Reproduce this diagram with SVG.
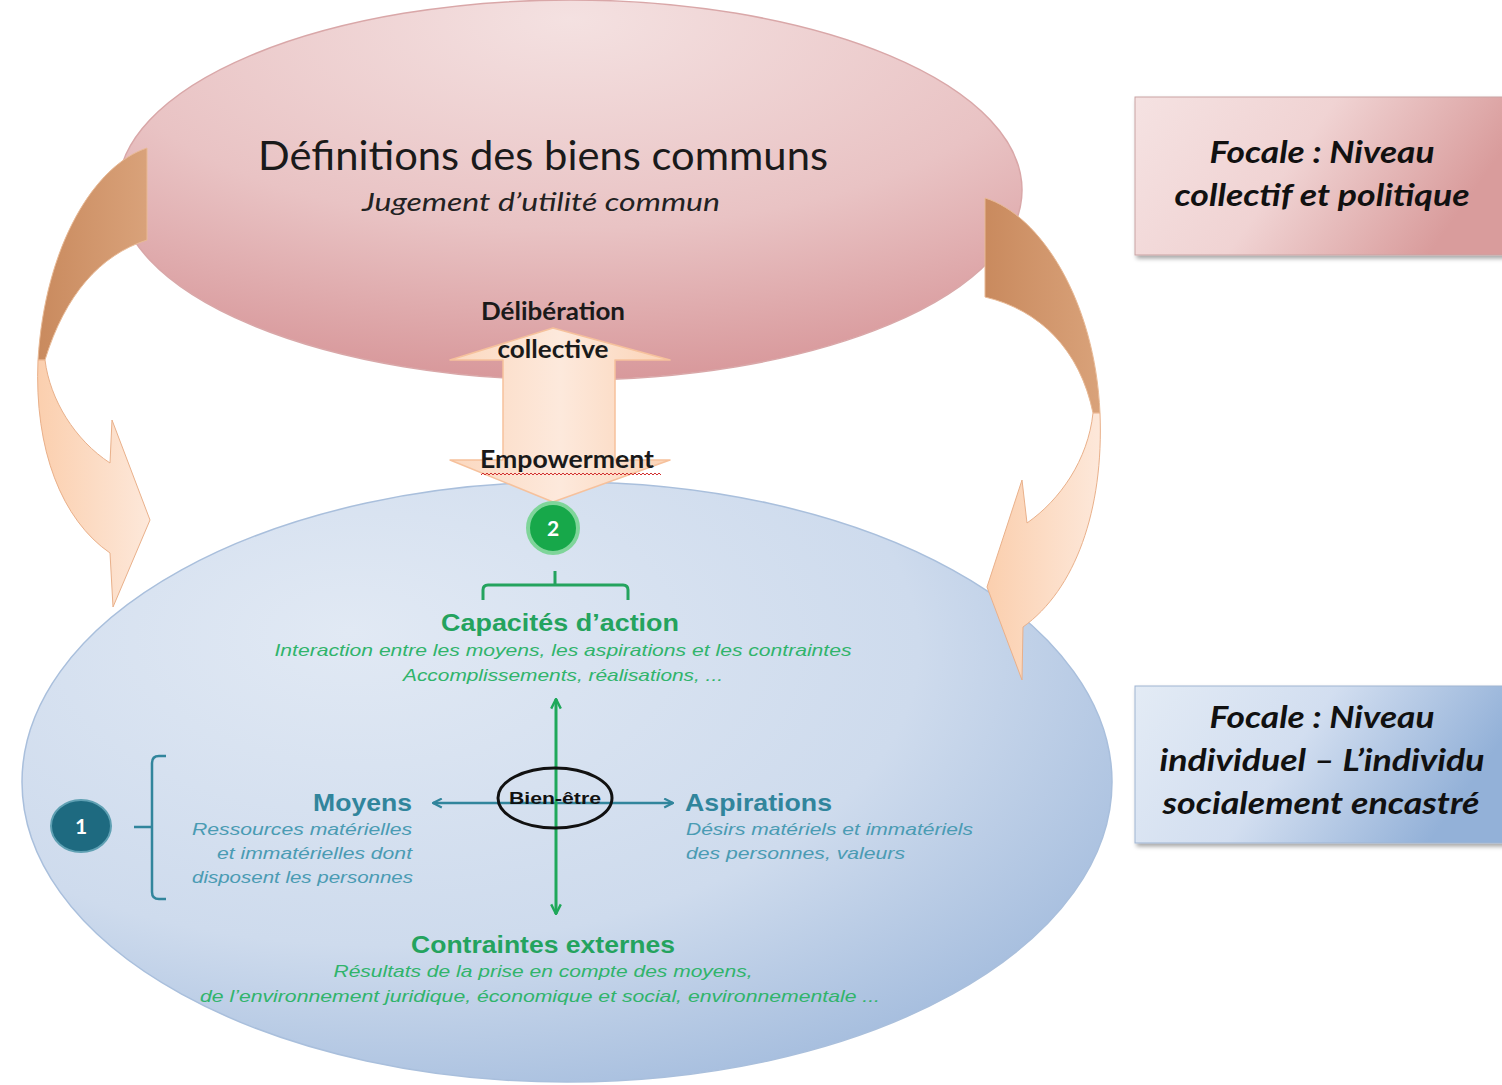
<svg xmlns="http://www.w3.org/2000/svg" width="1502" height="1085" viewBox="0 0 1502 1085">
<defs>
<radialGradient id="gPink" cx="0.5" cy="0.1" r="0.95" fx="0.5" fy="0.05">
<stop offset="0" stop-color="#f4e1e1"/>
<stop offset="0.55" stop-color="#e9c3c4"/>
<stop offset="1" stop-color="#d69396"/>
</radialGradient>
<radialGradient id="gBlue" cx="0.35" cy="0.3" r="0.9" fx="0.3" fy="0.25">
<stop offset="0" stop-color="#e1e9f4"/>
<stop offset="0.55" stop-color="#ceDbed"/>
<stop offset="1" stop-color="#93b0d7"/>
</radialGradient>
<linearGradient id="gBoxPink" x1="0" y1="0" x2="1" y2="0.3">
<stop offset="0" stop-color="#f5e2e2"/>
<stop offset="0.5" stop-color="#f0d3d3"/>
<stop offset="1" stop-color="#d99c9c"/>
</linearGradient>
<linearGradient id="gBoxBlue" x1="0" y1="0" x2="1" y2="0.3">
<stop offset="0" stop-color="#e3ebf5"/>
<stop offset="0.5" stop-color="#d2def0"/>
<stop offset="1" stop-color="#93b1d8"/>
</linearGradient>
<linearGradient id="gDark" x1="0" y1="0" x2="1" y2="0">
<stop offset="0" stop-color="#c98a5e"/>
<stop offset="1" stop-color="#d9a27a"/>
</linearGradient>
<linearGradient id="gLight" x1="0" y1="0" x2="1" y2="0">
<stop offset="0" stop-color="#fbcfae"/>
<stop offset="1" stop-color="#fde8da"/>
</linearGradient>
<linearGradient id="gShaft" x1="0" y1="0" x2="1" y2="0">
<stop offset="0" stop-color="#fbd8bf"/>
<stop offset="0.5" stop-color="#fde9dc"/>
<stop offset="1" stop-color="#fbd3b6"/>
</linearGradient>
<marker id="mTeal" viewBox="0 0 10 10" refX="9" refY="5" markerWidth="11" markerHeight="11" orient="auto-start-reverse" markerUnits="userSpaceOnUse">
<path d="M1,1 L9,5 L1,9" fill="none" stroke="#31859c" stroke-width="2"/>
</marker>
<marker id="mGreen" viewBox="0 0 10 10" refX="9" refY="5" markerWidth="12" markerHeight="12" orient="auto-start-reverse" markerUnits="userSpaceOnUse">
<path d="M1,1 L9,5 L1,9" fill="none" stroke="#1fa85a" stroke-width="2"/>
</marker>
<filter id="shadow" x="-10%" y="-10%" width="120%" height="130%">
<feDropShadow dx="2" dy="3" stdDeviation="2" flood-color="#000" flood-opacity="0.35"/>
</filter>
</defs>
<style>
.cal{font-family:Lato,"Liberation Sans",sans-serif}
.ar{font-family:"Liberation Sans",Arial,sans-serif}
.teal{fill:#31859c}
.tealit{fill:#4a9bb3;font-style:italic}
.grn{fill:#24a35e}
.grnit{fill:#30b46b;font-style:italic}
.focal{font-family:Lato,"Liberation Sans",sans-serif;font-weight:bold;font-style:italic;font-size:30px;fill:#111;text-anchor:middle}
</style>
<rect width="1502" height="1085" fill="#ffffff"/>

<g id="collectif">
<ellipse cx="570" cy="190" rx="452" ry="190" fill="url(#gPink)" stroke="#d9a7a8" stroke-width="1.5"/>
<text class="cal" x="543" y="170" font-size="40" fill="#1a1a1a" text-anchor="middle" textLength="570" lengthAdjust="spacingAndGlyphs">Définitions des biens communs</text>
<text class="cal" x="541" y="211" font-size="25" font-style="italic" fill="#222" text-anchor="middle" textLength="358" lengthAdjust="spacingAndGlyphs">Jugement d’utilité commun</text>
</g>

<g id="individuel">
<ellipse cx="567" cy="782" rx="545" ry="300" fill="url(#gBlue)" stroke="#a9bfdc" stroke-width="1.5"/>
</g>

<g id="arrow-left">
<path d="M147,148 C95,165 45,245 38,360 L45,360 C65,295 100,255 147,240 Z" fill="url(#gDark)" stroke="#e8b995" stroke-width="1"/>
<path d="M38,360 C34,450 62,520 110,553 L113,607 L150,520 L112,420 L110,463 C75,440 50,400 45,360 Z" fill="url(#gLight)" stroke="#e9b08a" stroke-width="1"/>
</g>

<g id="arrow-right">
<path d="M985,198 C1040,215 1095,300 1100,413 L1093,413 C1080,350 1040,310 985,297 Z" fill="url(#gDark)" stroke="#e8b995" stroke-width="1"/>
<path d="M1100,413 C1104,510 1075,590 1023,627 L1022,680 L987,587 L1022,480 L1027,523 C1060,500 1088,460 1093,413 Z" fill="url(#gLight)" stroke="#e9b08a" stroke-width="1"/>
</g>

<g id="arrow-deliberation">
<path d="M553,328 L670,360 L615,360 L615,460 L670,460 L553,502 L450,460 L503,460 L503,360 L450,360 Z" fill="url(#gShaft)" stroke="#f6c19c" stroke-width="1.5" stroke-linejoin="round"/>
<text class="cal" x="553" y="320" font-size="24" font-weight="bold" fill="#1a1a1a" text-anchor="middle" textLength="144" lengthAdjust="spacingAndGlyphs">Délibération</text>
<text class="cal" x="553" y="358" font-size="24" font-weight="bold" fill="#1a1a1a" text-anchor="middle" textLength="111" lengthAdjust="spacingAndGlyphs">collective</text>
<text class="cal" x="567" y="468" font-size="24" font-weight="bold" fill="#1a1a1a" text-anchor="middle" textLength="174" lengthAdjust="spacingAndGlyphs">Empowerment</text>
<path d="M481,475 l2,-2 l2,2 l2,-2 l2,2 l2,-2 l2,2 l2,-2 l2,2 l2,-2 l2,2 l2,-2 l2,2 l2,-2 l2,2 l2,-2 l2,2 l2,-2 l2,2 l2,-2 l2,2 l2,-2 l2,2 l2,-2 l2,2 l2,-2 l2,2 l2,-2 l2,2 l2,-2 l2,2 l2,-2 l2,2 l2,-2 l2,2 l2,-2 l2,2 l2,-2 l2,2 l2,-2 l2,2 l2,-2 l2,2 l2,-2 l2,2 l2,-2 l2,2 l2,-2 l2,2 l2,-2 l2,2 l2,-2 l2,2 l2,-2 l2,2 l2,-2 l2,2 l2,-2 l2,2 l2,-2 l2,2 l2,-2 l2,2 l2,-2 l2,2 l2,-2 l2,2 l2,-2 l2,2 l2,-2 l2,2 l2,-2 l2,2 l2,-2 l2,2 l2,-2 l2,2 l2,-2 l2,2 l2,-2 l2,2 l2,-2 l2,2 l2,-2 l2,2 l2,-2 l2,2 l2,-2 l2,2 l2,-2 l2,2" fill="none" stroke="#d23030" stroke-width="1"/>
</g>

<g id="badge-2">
<circle cx="553" cy="528" r="25" fill="#17a84a" stroke="#7fd59a" stroke-width="4"/>
<text class="cal" x="553" y="536" font-size="21" font-weight="bold" fill="#ffffff" text-anchor="middle">2</text>
</g>

<g id="capacites">
<path d="M483,600 L483,590 Q483,585 488,585 L623,585 Q628,585 628,590 L628,600 M555,585 L555,571" fill="none" stroke="#24a35e" stroke-width="3"/>
<text class="ar grn" x="560" y="631" font-size="24" font-weight="bold" text-anchor="middle" textLength="238" lengthAdjust="spacingAndGlyphs">Capacités d’action</text>
<text class="ar grnit" x="563" y="656" font-size="17" text-anchor="middle" textLength="577" lengthAdjust="spacingAndGlyphs">Interaction entre les moyens, les aspirations et les contraintes</text>
<text class="ar grnit" x="563" y="681" font-size="17" text-anchor="middle" textLength="320" lengthAdjust="spacingAndGlyphs">Accomplissements, réalisations, ...</text>
</g>

<g id="connectors">
<line x1="433" y1="803" x2="673" y2="803" stroke="#31859c" stroke-width="2.5" marker-start="url(#mTeal)" marker-end="url(#mTeal)"/>
<line x1="556" y1="699" x2="556" y2="914" stroke="#1fa85a" stroke-width="3" marker-start="url(#mGreen)" marker-end="url(#mGreen)"/>
</g>

<g id="bien-etre">
<ellipse cx="555" cy="798" rx="57" ry="30" fill="none" stroke="#111" stroke-width="3"/>
<text class="ar" x="555" y="804" font-size="17" font-weight="bold" fill="#111" text-anchor="middle" textLength="92" lengthAdjust="spacingAndGlyphs">Bien-être</text>
</g>

<g id="moyens">
<text class="ar teal" x="412" y="811" font-size="24" font-weight="bold" text-anchor="end" textLength="99" lengthAdjust="spacingAndGlyphs">Moyens</text>
<text class="ar tealit" x="412" y="835" font-size="17" text-anchor="end" textLength="220" lengthAdjust="spacingAndGlyphs">Ressources matérielles</text>
<text class="ar tealit" x="412" y="859" font-size="17" text-anchor="end" textLength="195" lengthAdjust="spacingAndGlyphs">et immatérielles dont</text>
<text class="ar tealit" x="413" y="883" font-size="17" text-anchor="end" textLength="221" lengthAdjust="spacingAndGlyphs">disposent les personnes</text>
</g>

<g id="badge-1">
<path d="M166,756 L159,756 Q152,756 152,763 L152,892 Q152,899 159,899 L166,899 M152,827 L134,827" fill="none" stroke="#31859c" stroke-width="2.5"/>
<ellipse cx="81" cy="826" rx="30" ry="26" fill="#1e6a80" stroke="#5fa0b3" stroke-width="2"/>
<text class="cal" x="81" y="834" font-size="21" font-weight="bold" fill="#ffffff" text-anchor="middle">1</text>
</g>

<g id="aspirations">
<text class="ar teal" x="685" y="811" font-size="24" font-weight="bold" textLength="147" lengthAdjust="spacingAndGlyphs">Aspirations</text>
<text class="ar tealit" x="686" y="835" font-size="17" textLength="287" lengthAdjust="spacingAndGlyphs">Désirs matériels et immatériels</text>
<text class="ar tealit" x="686" y="859" font-size="17" textLength="219" lengthAdjust="spacingAndGlyphs">des personnes, valeurs</text>
</g>

<g id="contraintes">
<text class="ar grn" x="543" y="953" font-size="24" font-weight="bold" text-anchor="middle" textLength="264" lengthAdjust="spacingAndGlyphs">Contraintes externes</text>
<text class="ar grnit" x="543" y="977" font-size="17" text-anchor="middle" textLength="419" lengthAdjust="spacingAndGlyphs">Résultats de la prise en compte des moyens,</text>
<text class="ar grnit" x="540" y="1002" font-size="17" text-anchor="middle" textLength="680" lengthAdjust="spacingAndGlyphs">de l’environnement juridique, économique et social, environnementale ...</text>
</g>

<g id="focale-collectif">
<rect x="1135" y="97" width="372" height="158" fill="url(#gBoxPink)" stroke="#c9a3a3" stroke-width="1" filter="url(#shadow)"/>
<text class="focal" x="1322" y="163" textLength="225" lengthAdjust="spacingAndGlyphs">Focale : Niveau</text>
<text class="focal" x="1322" y="206" textLength="295" lengthAdjust="spacingAndGlyphs">collectif et politique</text>
</g>

<g id="focale-individuel">
<rect x="1135" y="686" width="372" height="157" fill="url(#gBoxBlue)" stroke="#9fb5d2" stroke-width="1" filter="url(#shadow)"/>
<text class="focal" x="1322" y="728" textLength="225" lengthAdjust="spacingAndGlyphs">Focale : Niveau</text>
<text class="focal" x="1322" y="771" textLength="325" lengthAdjust="spacingAndGlyphs">individuel – L’individu</text>
<text class="focal" x="1321" y="814" textLength="317" lengthAdjust="spacingAndGlyphs">socialement encastré</text>
</g>
</svg>
